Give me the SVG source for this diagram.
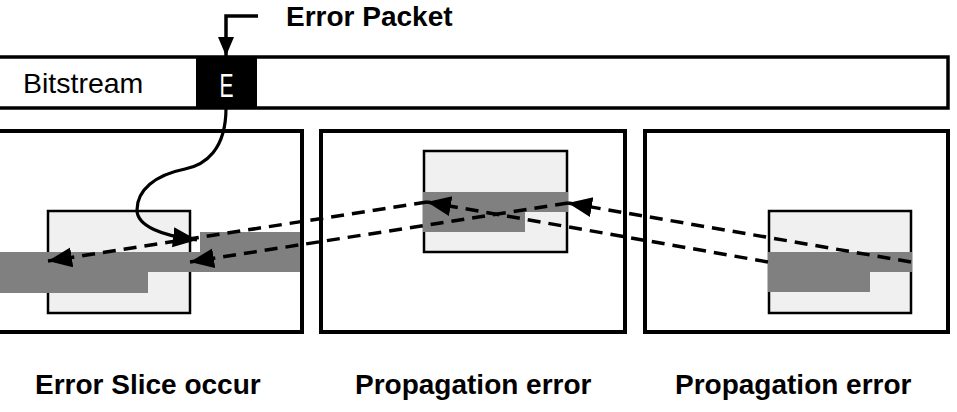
<svg xmlns="http://www.w3.org/2000/svg" width="957" height="412" viewBox="0 0 957 412">
<style>
.frame{fill:#fff;stroke:#000;stroke-width:4}
.inner{fill:#f0f0f0;stroke:#000;stroke-width:2.5}
.bar{fill:#808080}
.dash{fill:none;stroke:#000;stroke-width:3.5;stroke-dasharray:13 8}
.lbl{font-family:"Liberation Sans",Arial,sans-serif;font-weight:bold;font-size:28px;fill:#000}
</style>
<defs>
<marker id="ah" markerUnits="userSpaceOnUse" markerWidth="26" markerHeight="22" refX="24" refY="10" orient="auto">
<path d="M0,0 L24,10 L0,20 z" fill="#000"/>
</marker>
<marker id="ahs" markerUnits="userSpaceOnUse" markerWidth="22" markerHeight="18" refX="19" refY="8" orient="auto">
<path d="M0,0 L19,8 L0,16 z" fill="#000"/>
</marker>
</defs>
<rect width="957" height="412" fill="#fff"/>
<g id="bitstream">
<rect x="-5" y="57" width="953" height="51" fill="#fff" stroke="#000" stroke-width="3.5"/>
<text x="23" y="93" font-family="Liberation Sans, Arial, sans-serif" font-size="28.5" fill="#000">Bitstream</text>
</g>
<g id="error-packet">
<rect x="196" y="57" width="61" height="51" fill="#000"/>
<text transform="translate(226.5,97) scale(0.62,1)" font-family="Liberation Sans, Arial, sans-serif" font-size="34" fill="#fff" text-anchor="middle">E</text>
<text class="lbl" x="286" y="26">Error Packet</text>
</g>
<g id="frame1">
<rect class="frame" x="-5" y="131" width="307" height="201"/>
<rect class="inner" x="48" y="211" width="142" height="102"/>
<rect class="bar" x="200" y="232" width="100" height="20"/>
<rect class="bar" x="0" y="252" width="300" height="20"/>
<rect class="bar" x="0" y="272" width="148" height="21"/>
<text class="lbl" x="35" y="394">Error Slice occur</text>
</g>
<g id="frame2">
<rect class="frame" x="321" y="131" width="304" height="201"/>
<rect class="inner" x="424" y="151" width="143" height="101"/>
<rect class="bar" x="423" y="192" width="145" height="20"/>
<rect class="bar" x="423" y="212" width="102" height="20"/>
<text class="lbl" x="355" y="394">Propagation error</text>
</g>
<g id="frame3">
<rect class="frame" x="645" y="131" width="303" height="201"/>
<rect class="inner" x="769" y="211" width="142" height="102"/>
<rect class="bar" x="768" y="252" width="144" height="20"/>
<rect class="bar" x="768" y="272" width="102" height="20"/>
<text class="lbl" x="675" y="394">Propagation error</text>
</g>
<g id="connectors">
<path d="M258,16 H226 V56" fill="none" stroke="#000" stroke-width="3.5" marker-end="url(#ahs)"/>
<path d="M226,108 C226,150 205,165 185,169 C155,175 137,190 137,210 C137,226 162,236 197,240" fill="none" stroke="#000" stroke-width="3.2" marker-end="url(#ah)"/>
<path class="dash" d="M911,262 L568,203" marker-end="url(#ah)"/>
<path class="dash" d="M568,203 L190,262" marker-end="url(#ah)"/>
<path class="dash" d="M768,262 L427,202" marker-end="url(#ah)"/>
<path class="dash" d="M427,202 L48,261" marker-end="url(#ah)"/>
</g>
</svg>
